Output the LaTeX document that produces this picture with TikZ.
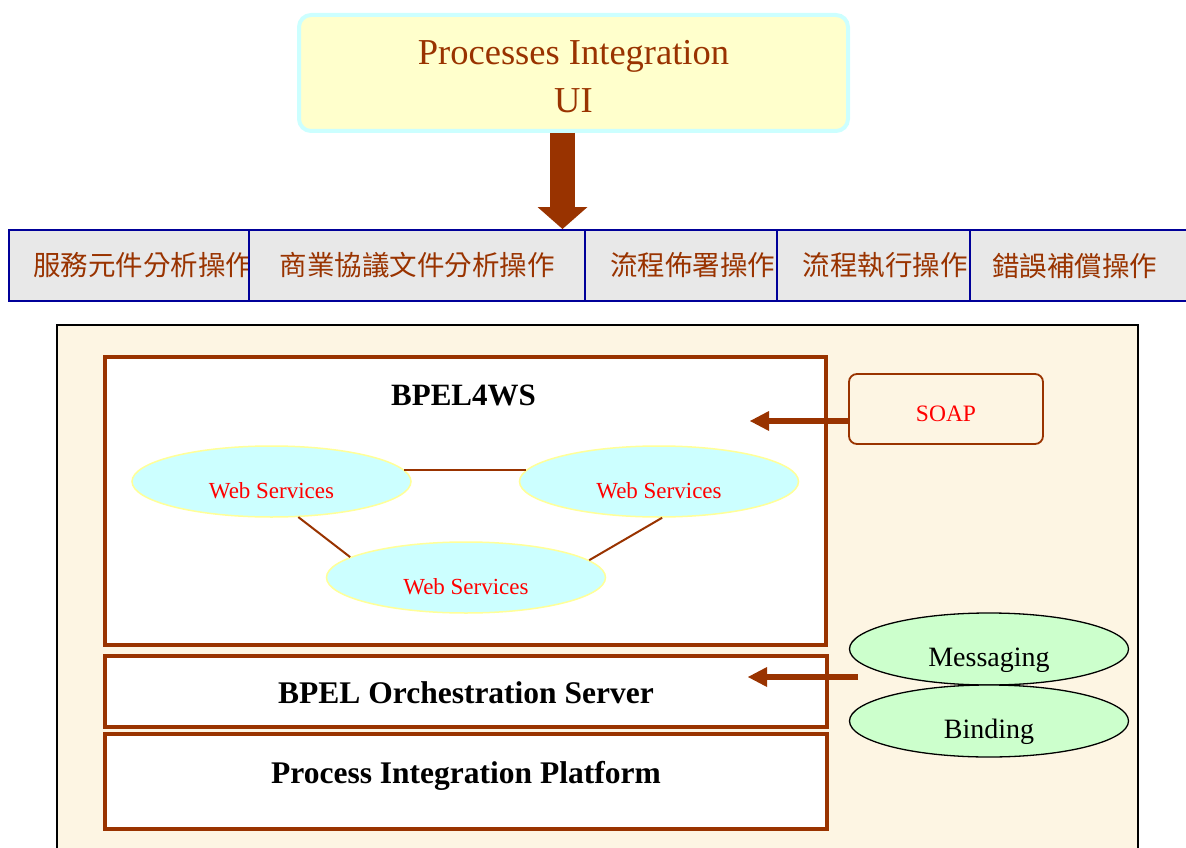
\documentclass[tikz,border=0pt]{standalone}
\usepackage{fontspec}
\setmainfont{Liberation Serif}
\newfontfamily\cjkfont{Noto Sans CJK TC}
\usetikzlibrary{arrows.meta, positioning, shapes.geometric}

\definecolor{rust}{HTML}{993300}
\definecolor{cream}{HTML}{FDF5E3}
\definecolor{uifill}{HTML}{FFFFCC}
\definecolor{uiedge}{HTML}{CCFFFF}
\definecolor{tabfill}{HTML}{E8E8E8}
\definecolor{tabedge}{HTML}{000099}
\definecolor{wsfill}{HTML}{CCFFFF}
\definecolor{wsedge}{HTML}{FFFF99}
\definecolor{msgfill}{HTML}{CCFFCC}

\begin{document}
\begin{tikzpicture}[
    x=1pt, y=-1pt,
    uibox/.style={rectangle, draw=uiedge, line width=4pt, fill=uifill, rounded corners=12pt, minimum width=549pt, minimum height=116pt, align=center, text=rust, font=\fontsize{36.5}{48}\selectfont},
    tab/.style={rectangle, draw=tabedge, line width=2pt, fill=tabfill, minimum height=71pt, text=rust, font=\cjkfont\fontsize{27.5}{30}\selectfont},
    layer/.style={rectangle, draw=rust, line width=4pt, fill=white, minimum width=722pt, font=\bfseries\fontsize{31.5}{36}\selectfont},
    ws/.style={ellipse, draw=wsedge, line width=1.5pt, fill=wsfill, minimum width=279pt, minimum height=71pt, text=red, font=\fontsize{23}{26}\selectfont, text height=34pt, text depth=0pt},
    proto/.style={ellipse, draw, line width=1.3pt, fill=msgfill, minimum width=279pt, minimum height=72pt, font=\fontsize{28}{30}\selectfont, text height=35pt, text depth=0pt},
    link/.style={draw=rust, line width=2pt},
    fatarrow/.style={draw=rust, line width=6pt, -{Triangle[length=19pt, width=20pt, line width=0pt]}},
    bigarrow/.style={draw=rust, line width=25pt, -{Triangle[length=22pt, width=50pt, line width=0pt]}}
]
\useasboundingbox (0,0) rectangle (1186,848);

\node[uibox] (ui) at (573.5,73) {\rule{0pt}{32pt}Processes Integration\\UI};

\node[tab, minimum width=268pt] (tabsvc) at (143,265.5) {服務元件分析操作};
\node[tab, minimum width=336pt] (tabdoc) at (417,265.5) {商業協議文件分析操作};
\node[tab, minimum width=215pt] (tabdeploy) at (692.5,265.5) {流程佈署操作};
\node[tab, minimum width=216pt] (tabexec) at (885,265.5) {流程執行操作};
\node[tab, minimum width=234pt, text width=190pt, align=left, inner xsep=22pt] (tabcomp) at (1087,265.5) {錯誤補償操作};

\coordinate (uiout) at ([xshift=-11pt]ui.south);
\draw[bigarrow] (uiout) -- (uiout |- tabdoc.north);

\node[rectangle, draw, line width=1.5pt, fill=cream, minimum width=1081pt, minimum height=540pt] (frame) at (597.5,595) {};

\node[layer, minimum width=721pt, minimum height=288pt] (bpelbox) at (465.5,501) {};
\node[font=\bfseries\fontsize{31}{36}\selectfont] (bpeltitle) at (463.5,395) {BPEL4WS};

\node[ws] (ws1) at (271.5,481.5) {Web Services};
\node[ws] (ws2) at (659,481.5) {Web Services};
\node[ws] (ws3) at (466,577.5) {Web Services};

\draw[link] (ws1.5) -- (ws2.175);
\draw[link] (ws1.-53) -- (ws3.170);
\draw[link] (ws2.-85) -- (ws3.8);

\node[rectangle, rounded corners=8pt, draw=rust, line width=1.8pt, fill=cream, minimum width=194pt, minimum height=70pt, text=red, font=\fontsize{23.5}{26}\selectfont, text height=24pt, text depth=0pt] (soap) at (946,409) {SOAP};
\coordinate (bpelin) at (750,421);
\draw[fatarrow] ([yshift=-12pt]soap.west) -- (bpelin);

\node[layer, minimum height=71pt, text height=23pt, text depth=0pt] (orch) at (466,691.5) {BPEL Orchestration Server};
\node[layer, minimum height=95pt, text height=22pt, text depth=19pt, below=3pt of orch] (platform) {Process Integration Platform};

\node[proto] (msg) at (989,649) {Messaging};
\node[proto, below=-1.3pt of msg] (bind) {Binding};

\coordinate (msgout) at (858,677);
\coordinate (orchin) at (748,677);
\draw[fatarrow] (msgout) -- (orchin);
\end{tikzpicture}
\end{document}
